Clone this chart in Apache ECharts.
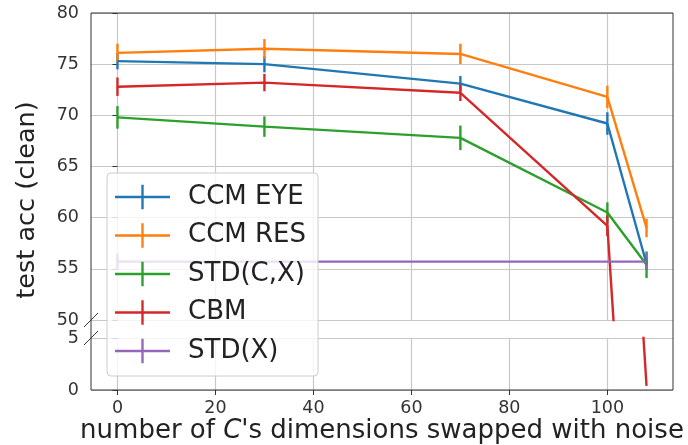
<!DOCTYPE html>
<html>
<head>
<meta charset="utf-8">
<script src="https://cdn.jsdelivr.net/npm/echarts@6/dist/echarts.min.js"></script>
<style>
  html, body { margin: 0; padding: 0; background: #fff; }
  #chart { width: 688px; height: 445px; }
</style>
</head>
<body>
<div id="chart"></div>
<script>
// ---- data ----
const xValues = [0, 30, 70, 100, 108];
const xTicks = [0, 20, 40, 60, 80, 100];
const yTicksTop = [50, 55, 60, 65, 70, 75, 80];
const yTicksBottom = [0, 5];

const ccmEye = [75.3, 75.0, 73.1, 69.2, 55.5];
const ccmEyeErr = [0.8, 0.8, 0.75, 1.1, 0.6];
const ccmRes = [76.1, 76.5, 76.0, 71.8, 59.0];
const ccmResErr = [0.9, 0.95, 1.0, 1.1, 0.9];
const stdCX = [69.8, 68.9, 67.8, 60.5, 55.4];
const stdCXErr = [1.1, 1.0, 1.2, 1.0, 1.3];
const cbm = [72.8, 73.2, 72.2, 59.2, 0.4];
const cbmErr = [0.9, 0.85, 0.8, 1.0, 0.0];
const stdXx = [0, 108];
const stdX = [55.7, 55.7];
const stdXErr = [0.8, 0.8];

const names = ['CCM EYE', 'CCM RES', 'STD(C,X)', 'CBM', 'STD(X)'];
const colors = ['#1f77b4', '#ff7f0e', '#2ca02c', '#d62728', '#9467bd'];

// ---- layout ----
const L = 91, R = 15, TOP = 13, TOP_H = 307, BOT_T = 338, BOT_H = 52;
const W = 688;
const FONT = 'DejaVu Sans';

const chart = echarts.init(document.getElementById('chart'), null, {renderer: 'canvas'});

function pts(xs, ys) { return xs.map((x, i) => [x, ys[i]]); }
function errPts(xs, ys, es) { return xs.map((x, i) => [x, ys[i], es[i]]); }

const seriesDefs = [
  {name: names[0], xs: xValues, ys: ccmEye, es: ccmEyeErr, c: colors[0]},
  {name: names[1], xs: xValues, ys: ccmRes, es: ccmResErr, c: colors[1]},
  {name: names[2], xs: xValues, ys: stdCX, es: stdCXErr, c: colors[2]},
  {name: names[3], xs: xValues, ys: cbm, es: cbmErr, c: colors[3]},
  {name: names[4], xs: stdXx, ys: stdX, es: stdXErr, c: colors[4]},
];

const series = [];
[0, 1].forEach(g => {
  seriesDefs.forEach(d => {
    series.push({
      type: 'line',
      name: d.name,
      xAxisIndex: g, yAxisIndex: g,
      data: pts(d.xs, d.ys),
      showSymbol: false, symbol: 'none',
      lineStyle: {color: d.c, width: 2.4},
      itemStyle: {color: d.c},
      clip: true,
      silent: true,
      z: 3
    });
    series.push({
      type: 'custom',
      name: d.name + '_err',
      xAxisIndex: g, yAxisIndex: g,
      data: errPts(d.xs, d.ys, d.es),
      clip: true,
      silent: true,
      z: 3,
      renderItem: function (params, api) {
        const x = api.value(0), y = api.value(1), e = api.value(2);
        if (!e) return null;
        const p1 = api.coord([x, y - e]);
        const p2 = api.coord([x, y + e]);
        return {
          type: 'line',
          shape: {x1: p1[0], y1: p1[1], x2: p2[0], y2: p2[1]},
          style: {stroke: d.c, lineWidth: 2.4}
        };
      }
    });
  });
});

const splitLineStyle = {show: true, lineStyle: {color: '#c8c8c8', width: 1.2}};
const tickLabel = {color: '#333', fontFamily: FONT, fontSize: 17.5};
const crossIcon = 'path://M0,11.3h56v2.4H0z M26.8,0h2.4v25h-2.4z';

const option = {
  animation: false,
  backgroundColor: '#fff',
  grid: [
    {left: L, right: R, top: TOP, height: TOP_H},
    {left: L, right: R, top: BOT_T, height: BOT_H}
  ],
  xAxis: [
    {
      type: 'value', gridIndex: 0, min: -5.4, max: 113.4,
      axisLine: {show: false},
      axisTick: {show: false, customValues: xTicks},
      axisLabel: {show: false, customValues: xTicks},
      splitLine: splitLineStyle
    },
    {
      type: 'value', gridIndex: 1, min: -5.4, max: 113.4,
      axisLine: {show: false},
      axisTick: {show: true, length: 5, customValues: xTicks, lineStyle: {color: '#333', width: 1}},
      axisLabel: Object.assign({show: true, margin: 9, customValues: xTicks}, tickLabel),
      splitLine: splitLineStyle,
      name: '{n|number of }{i|C}{n|\'s dimensions swapped with noise}',
      nameLocation: 'middle',
      nameGap: 28,
      nameTextStyle: {
        rich: {
          n: {fontFamily: FONT, fontSize: 26, color: '#222'},
          i: {fontFamily: FONT, fontSize: 26, color: '#222', fontStyle: 'italic'}
        }
      }
    }
  ],
  yAxis: [
    {
      type: 'value', gridIndex: 0, min: 50, max: 80, interval: 5,
      axisLine: {show: false},
      axisTick: {show: true, length: 5, lineStyle: {color: '#333', width: 1}},
      axisLabel: Object.assign({margin: 12}, tickLabel),
      splitLine: splitLineStyle
    },
    {
      type: 'value', gridIndex: 1, min: 0, max: 5, interval: 5,
      axisLine: {show: false},
      axisTick: {show: true, length: 5, lineStyle: {color: '#333', width: 1}},
      axisLabel: Object.assign({margin: 12}, tickLabel),
      splitLine: splitLineStyle
    }
  ],
  legend: {
    show: true,
    orient: 'vertical',
    left: 107, top: 173,
    data: names.map(n => ({name: n, icon: crossIcon})),
    itemWidth: 55, itemHeight: 25,
    itemGap: 12.5,
    padding: [11, 12, 12, 8],
    backgroundColor: 'rgba(255,255,255,0.8)',
    borderColor: '#cccccc', borderWidth: 1, borderRadius: 4,
    selectedMode: false,
    textStyle: {fontFamily: FONT, fontSize: 26, color: '#222', lineHeight: 26, padding: [0, 0, 0, 13]}
  },
  graphic: [
    {
      type: 'rect', z: 10, silent: true,
      shape: {x: L, y: TOP, width: W - L - R, height: BOT_T + BOT_H - TOP},
      style: {fill: 'none', stroke: '#333', lineWidth: 1}
    },
    {
      type: 'line', z: 10, silent: true,
      shape: {x1: L - 7, y1: TOP + TOP_H + 7, x2: L + 7, y2: TOP + TOP_H - 7},
      style: {stroke: '#333', lineWidth: 1}
    },
    {
      type: 'line', z: 10, silent: true,
      shape: {x1: L - 7, y1: BOT_T + 7, x2: L + 7, y2: BOT_T - 7},
      style: {stroke: '#333', lineWidth: 1}
    },
    {
      type: 'text', z: 10, silent: true,
      x: 27, y: 200, rotation: Math.PI / 2,
      style: {text: 'test acc (clean)', fontFamily: FONT, fontSize: 25.5, fill: '#222',
              align: 'center', verticalAlign: 'middle'}
    }
  ],
  series: series
};

chart.setOption(option);
</script>
</body>
</html>
